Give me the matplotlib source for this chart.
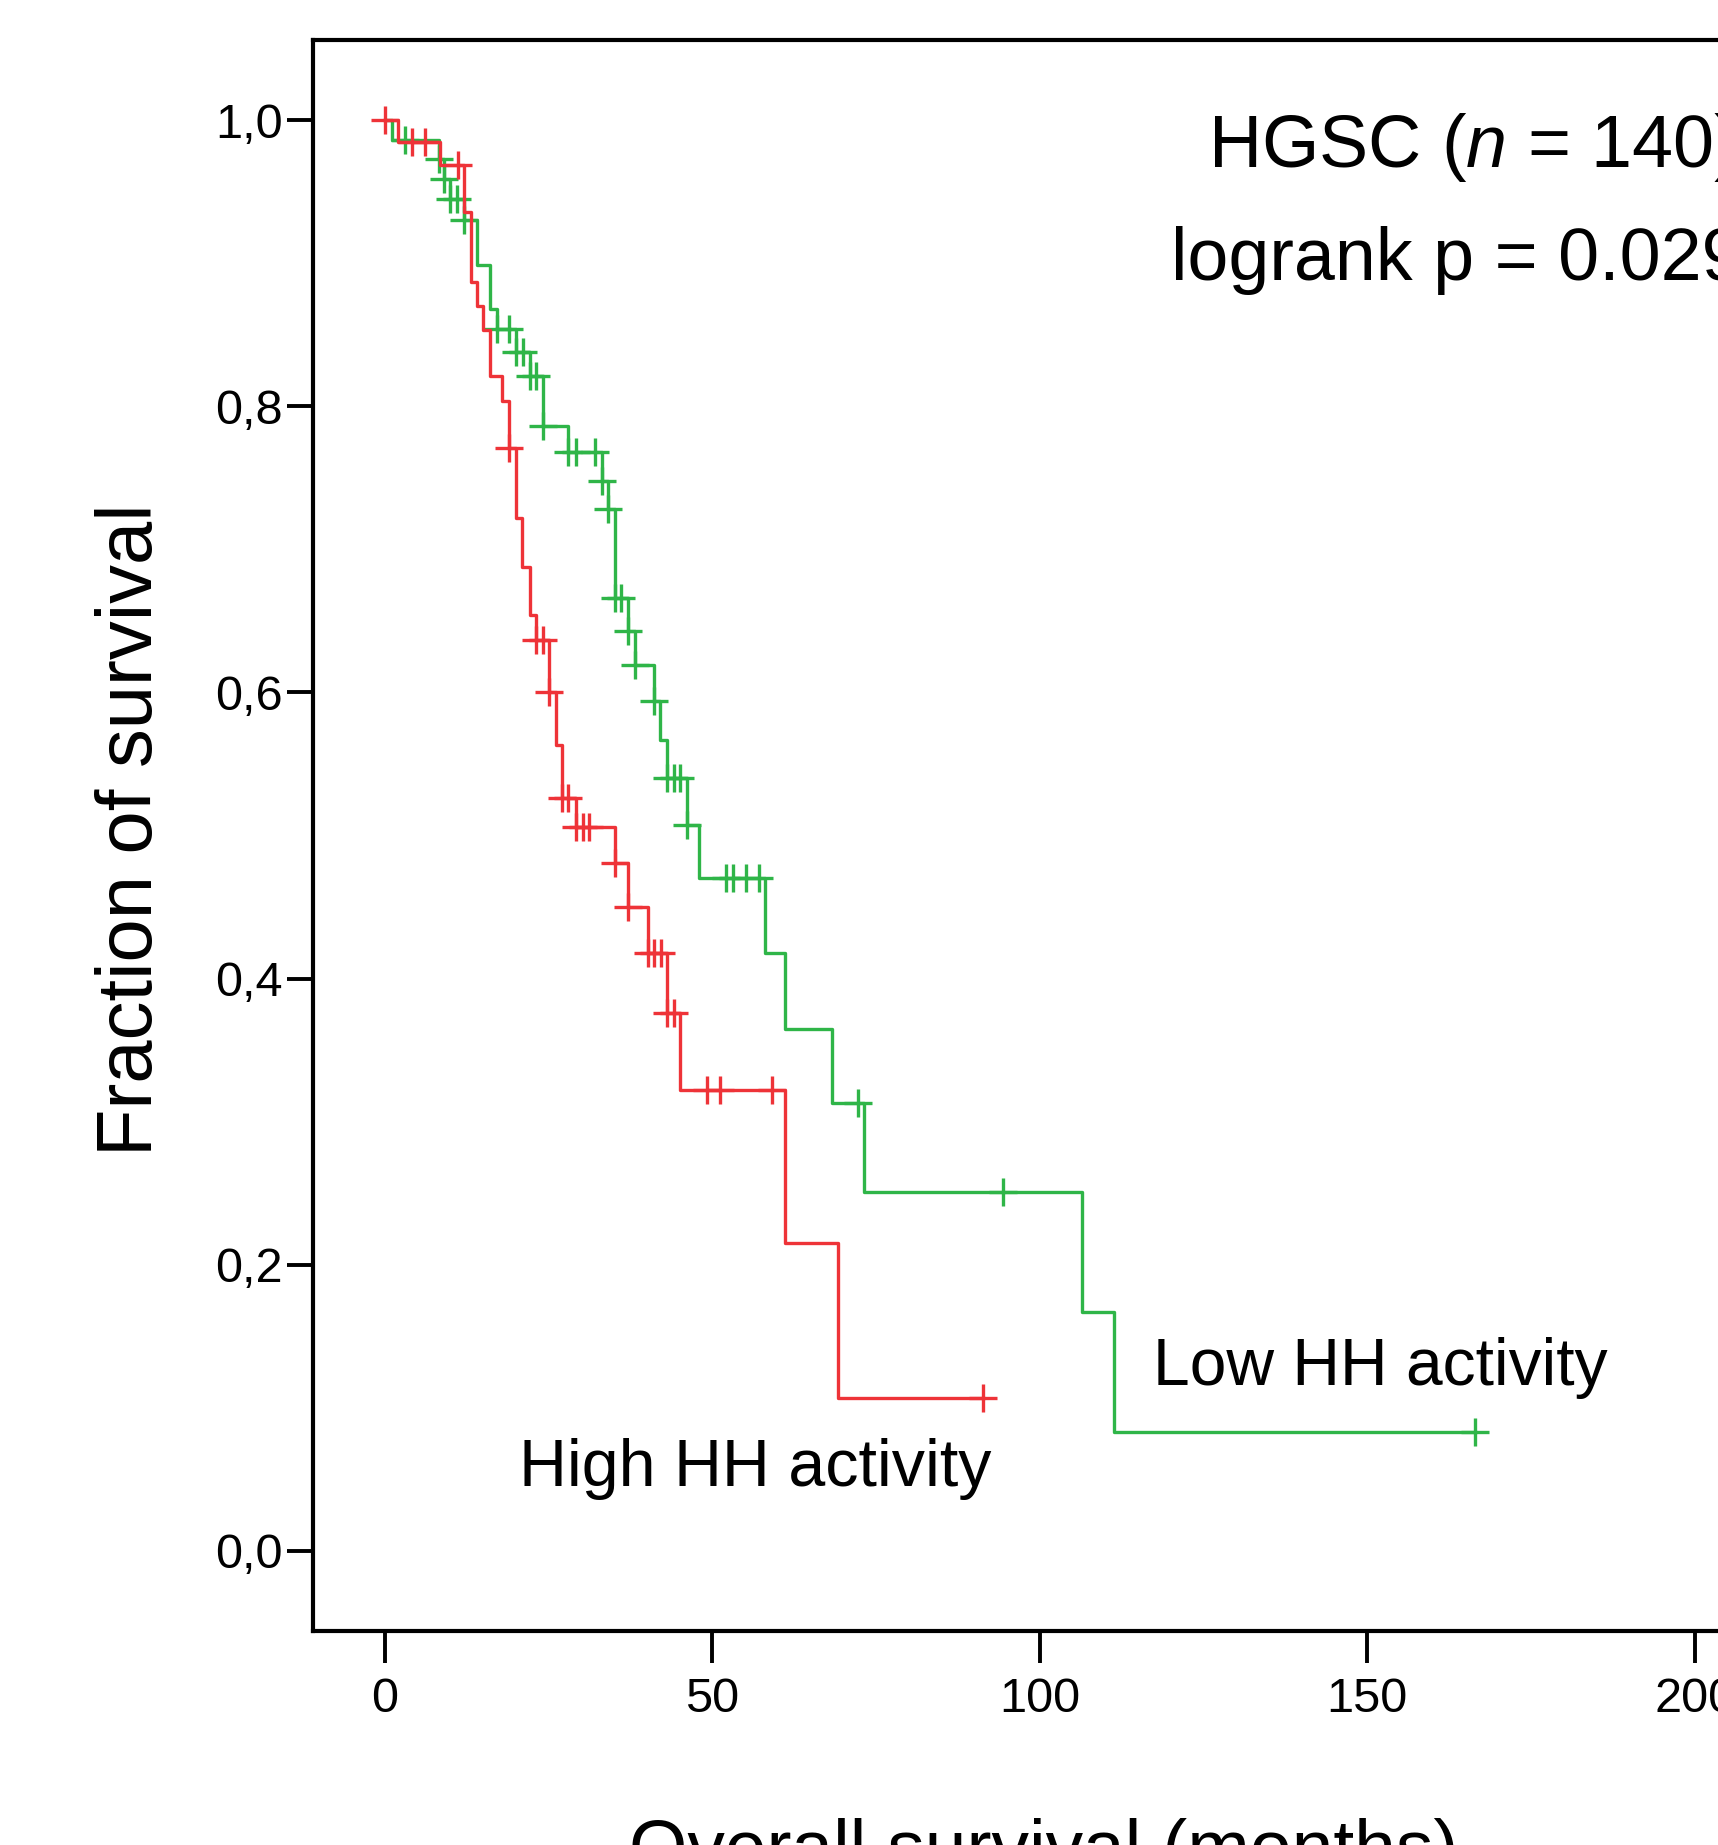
import matplotlib; matplotlib.use("Agg")
import matplotlib.pyplot as plt
import numpy as np

plt.rcParams['font.family'] = ['Liberation Sans', 'DejaVu Sans']
plt.rcParams['mathtext.fontset'] = 'custom'
plt.rcParams['mathtext.rm'] = 'Liberation Sans'
plt.rcParams['mathtext.it'] = 'Liberation Sans:italic'

# Kaplan-Meier steps (months, fraction surviving)
high_t = [0, 2.0, 8.4, 12.1, 13.1, 14.0, 15.0, 16.1, 17.9, 19.0, 20.0, 20.9, 22.1, 23.1,
          25.0, 26.1, 27.0, 29.1, 35.1, 37.1, 40.1, 43.0, 45.1, 61.1, 69.1]
high_s = [1.0, 0.985, 0.969, 0.936, 0.887, 0.870, 0.853, 0.821, 0.804, 0.771, 0.722, 0.688,
          0.654, 0.637, 0.600, 0.563, 0.526, 0.506, 0.481, 0.450, 0.418, 0.376, 0.322, 0.215, 0.107]
high_end = 91.3
high_cens = [0, 4.1, 6.1, 11.1, 19.0, 23.1, 24.1, 25.0, 27.0, 28.0, 29.1, 30.2, 31.1, 35.1,
             37.1, 40.1, 41.1, 42.1, 43.0, 44.1, 49.2, 51.1, 59.1, 91.3]

low_t = [0, 1.0, 8.2, 9.05, 9.96, 12.1, 14.0, 16.1, 17.1, 20.0, 22.1, 24.1, 28.0, 33.1, 34.1,
         35.05, 37.1, 38.1, 41.1, 42.0, 43.0, 46.1, 48.0, 58.1, 61.1, 68.2, 73.1, 106.5, 111.4]
low_s = [1.0, 0.986, 0.973, 0.959, 0.945, 0.930, 0.899, 0.868, 0.854, 0.838, 0.821, 0.786,
         0.768, 0.748, 0.728, 0.666, 0.643, 0.619, 0.594, 0.567, 0.540, 0.507, 0.470, 0.418,
         0.365, 0.313, 0.251, 0.167, 0.083]
low_end = 166.5
low_cens = [3.1, 8.2, 9.05, 9.96, 11.0, 12.1, 17.1, 19.0, 20.0, 21.05, 22.1, 23.1, 24.1, 28.0,
            29.1, 32.1, 33.1, 34.1, 35.05, 36.1, 37.1, 38.1, 41.1, 43.0, 44.1, 45.1, 46.1,
            52.1, 53.1, 55.1, 57.1, 72.2, 94.3, 166.5]

xticks = [0, 50, 100, 150, 200]
yticks = [0.0, 0.2, 0.4, 0.6, 0.8, 1.0]
ytick_labels = ["0,0", "0,2", "0,4", "0,6", "0,8", "1,0"]

RED = "#ee3338"
GREEN = "#2fb548"

fig = plt.figure(figsize=(17.18, 18.45), dpi=100)
fig.patch.set_facecolor("white")
ax = fig.add_axes([0.1822, 0.1160, 0.8423, 0.8623])


def km(t, s, end, cens, color):
    t = np.asarray(t); s = np.asarray(s)
    ax.step(np.append(t, end), np.append(s, s[-1]), where="post", color=color, lw=2.4)
    idx = np.searchsorted(t, np.asarray(cens), side="right") - 1
    ax.plot(cens, s[idx], ls="none", marker="+", ms=19.5, mew=2.4, color=color)


km(low_t, low_s, low_end, low_cens, GREEN)
km(high_t, high_s, high_end, high_cens, RED)

ax.set_xlim(-11, 210)
ax.set_ylim(-0.056, 1.056)
ax.set_xticks(xticks)
ax.set_yticks(yticks)
ax.set_yticklabels(ytick_labels)
for sp in ax.spines.values():
    sp.set_linewidth(3.0)
ax.tick_params(axis="x", length=23, width=2.8, pad=10, labelsize=35)
ax.tick_params(axis="y", length=19, width=2.8, pad=3, labelsize=35)

fig.text(0.0768, 0.5501, "Fraction of survival", rotation=90, ha="center", va="center", fontsize=56)
fig.text(0.6077, 0.0146, "Overall survival (months)", ha="center", va="top", fontsize=54)

fig.text(1208/1718, 1-167/1845, "HGSC ($n$ = 140)", ha="left", va="baseline", fontsize=53)
fig.text(1171/1718, 1-280/1845, "logrank p = 0.029", ha="left", va="baseline", fontsize=53)

ax.text(117.3, 0.116, "Low HH activity", ha="left", va="baseline", fontsize=47.5)
ax.text(20.5, 0.0454, "High HH activity", ha="left", va="baseline", fontsize=47.8)

fig.savefig("out.png", dpi=100)
